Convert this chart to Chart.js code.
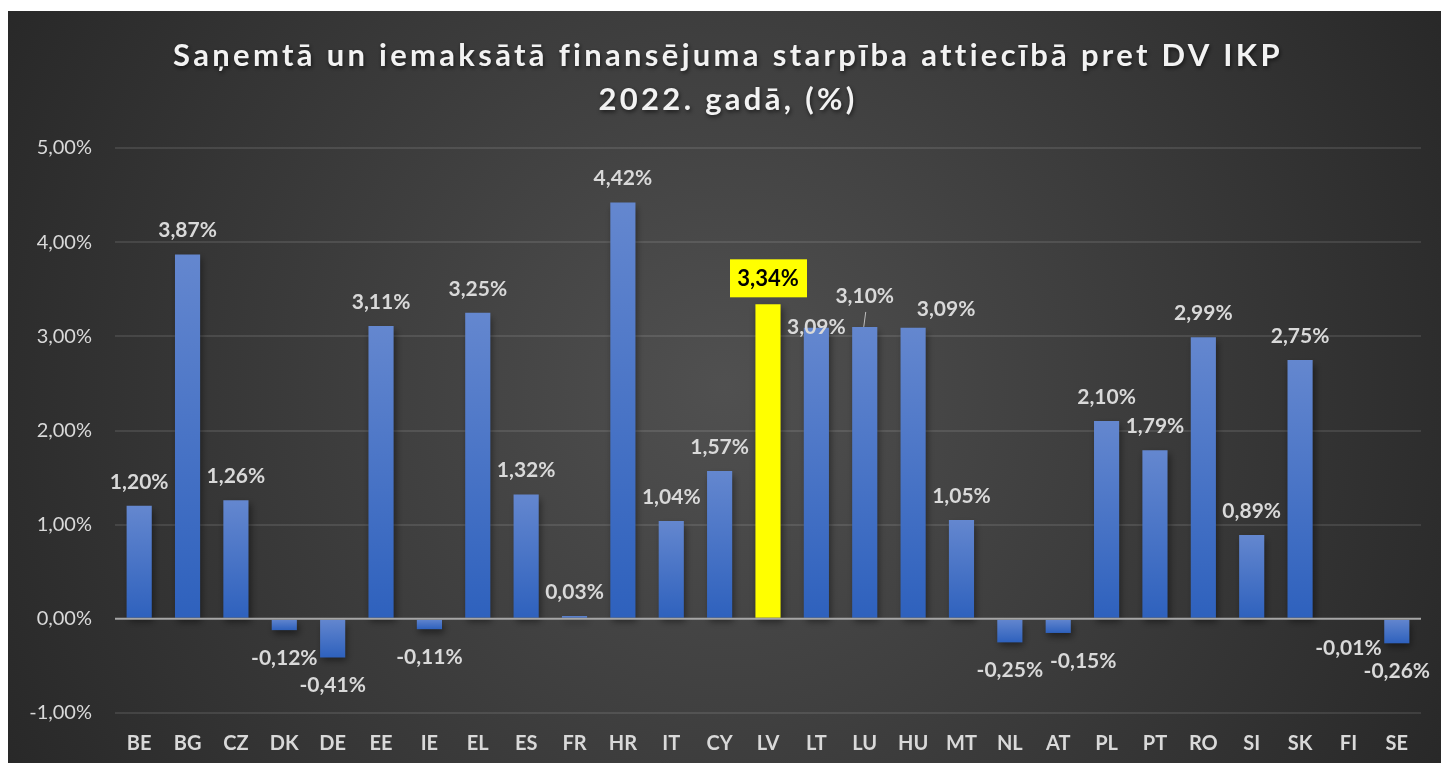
<!DOCTYPE html>
<html>
<head>
<meta charset="utf-8">
<script src="https://cdn.jsdelivr.net/npm/chart.js@4"></script>
<style>
  html, body { margin: 0; padding: 0; background: #fff; overflow: hidden; }
  #wrap { position: absolute; left: 8px; top: 11px; width: 1433px; height: 752px; }
</style>
</head>
<body>
<div id="wrap"><canvas id="gapChart"></canvas></div>
<script>
// ===== DATA =====
const categories = ["BE","BG","CZ","DK","DE","EE","IE","EL","ES","FR","HR","IT","CY","LV","LT","LU","HU","MT","NL","AT","PL","PT","RO","SI","SK","FI","SE"];
const values = [1.20,3.87,1.26,-0.12,-0.41,3.11,-0.11,3.25,1.32,0.03,4.42,1.04,1.57,3.34,3.09,3.10,3.09,1.05,-0.25,-0.15,2.10,1.79,2.99,0.89,2.75,-0.01,-0.26];
const yTicks = [-1, 0, 1, 2, 3, 4, 5];
const highlight = "LV";
const titleLines = ["Saņemtā un iemaksātā finansējuma starpība attiecībā pret DV IKP", "2022. gadā, (%)"];

// label nudges where Excel moved them around (dx, dy in px)
const labelNudge = { LT: [0, 23], LU: [0, -7], HU: [33, 5], AT: [25, 0] };

const fmt = (v) => v.toFixed(2).replace(".", ",") + "%";
const FONT = "Lato, 'Open Sans', sans-serif";

const chartPlugin = {
  id: "excelLook",
  beforeDraw(chart) {
    const { ctx, width, height } = chart;
    const g = ctx.createRadialGradient(width * 0.5, height * 0.5, 0, width * 0.5, height * 0.5, width * 0.6);
    g.addColorStop(0, "#505050");
    g.addColorStop(1, "#262626");
    ctx.save();
    ctx.fillStyle = g;
    ctx.fillRect(0, 0, width, height);
    // title
    ctx.fillStyle = "#f2f2f2";
    ctx.font = "bold 31px " + FONT;
    ctx.textAlign = "center";
    ctx.textBaseline = "alphabetic";
    ctx.letterSpacing = "3.3px";
    ctx.shadowColor = "rgba(0,0,0,0.6)";
    ctx.shadowBlur = 4;
    ctx.shadowOffsetX = 1;
    ctx.shadowOffsetY = 2;
    ctx.fillText(titleLines[0], 720, 55);
    ctx.fillText(titleLines[1], 720, 99);
    ctx.restore();
  },
  beforeDatasetsDraw(chart) {
    const ctx = chart.ctx;
    ctx.save();
    ctx.shadowColor = "rgba(0,0,0,0.45)";
    ctx.shadowBlur = 7;
    ctx.shadowOffsetX = 2;
    ctx.shadowOffsetY = 4;
  },
  afterDatasetsDraw(chart) {
    const ctx = chart.ctx;
    ctx.restore();
    const { chartArea, scales } = chart;
    const y0 = scales.y.getPixelForValue(0);
    ctx.save();
    ctx.strokeStyle = "#a6a6a6";
    ctx.lineWidth = 2;
    ctx.beginPath();
    ctx.moveTo(chartArea.left, y0);
    ctx.lineTo(chartArea.right, y0);
    ctx.stroke();

    const meta = chart.getDatasetMeta(0);
    ctx.textAlign = "center";
    ctx.textBaseline = "middle";
    meta.data.forEach((el, i) => {
      const v = values[i];
      const cat = categories[i];
      const [dx, dy] = labelNudge[cat] || [0, 0];
      const x = el.x + dx;
      let y = v >= 0 ? el.y - 24 + dy : el.y + 28 + dy;
      if (cat === highlight) {
        y = el.y - 26;
        ctx.fillStyle = "#ffff00";
        ctx.fillRect(x - 38, y - 19, 77, 38);
        ctx.fillStyle = "#000";
        ctx.font = "bold 22px " + FONT;
        ctx.fillText(fmt(v), x, y + 1);
        return;
      }
      ctx.fillStyle = "#d9d9d9";
      ctx.font = "bold 21px " + FONT;
      ctx.fillText(fmt(v), x, y);
      if (cat === "LU") {
        ctx.strokeStyle = "#bfbfbf";
        ctx.lineWidth = 1;
        ctx.beginPath();
        ctx.moveTo(x + 1, y + 16);
        ctx.lineTo(x - 1, el.y);
        ctx.stroke();
      }
    });
    ctx.restore();
  }
};

document.addEventListener("DOMContentLoaded", () => {
  const canvas = document.getElementById("gapChart");
  new Chart(canvas, {
    type: "bar",
    data: {
      labels: categories,
      datasets: [{
        data: values,
        barPercentage: 0.52,
        categoryPercentage: 1,
        backgroundColor: (c) => {
          if (c.type !== "data") return "#4472c4";
          if (categories[c.dataIndex] === highlight) return "#ffff00";
          const chart = c.chart;
          if (!chart.chartArea) return "#4472c4";
          const v = values[c.dataIndex];
          const yTop = chart.scales.y.getPixelForValue(Math.max(v, 0));
          const yBot = chart.scales.y.getPixelForValue(Math.min(v, 0));
          const g = chart.ctx.createLinearGradient(0, yTop, 0, yBot + 0.01);
          g.addColorStop(0, "#6487cf");
          g.addColorStop(1, "#2e61bd");
          return g;
        }
      }]
    },
    options: {
      responsive: true,
      maintainAspectRatio: false,
      animation: false,
      layout: { padding: { top: 137, right: 20, bottom: 10, left: 0 } },
      plugins: { legend: { display: false }, tooltip: { enabled: false } },
      scales: {
        x: {
          grid: { display: false, drawTicks: false },
          border: { display: false },
          ticks: { color: "#d9d9d9", font: { family: FONT, size: 20, weight: "bold" }, padding: 19, maxRotation: 0, autoSkip: false },
          afterFit: (s) => { s.height = 40; }
        },
        y: {
          min: yTicks[0],
          max: yTicks[yTicks.length - 1],
          afterBuildTicks: (s) => { s.ticks = yTicks.map((v) => ({ value: v })); },
          grid: {
            color: (c) => (c.tick && c.tick.value === 0 ? "rgba(0,0,0,0)" : "rgba(255,255,255,0.1)"),
            lineWidth: 2,
            drawTicks: false
          },
          border: { display: false },
          ticks: { color: "#d9d9d9", font: { family: FONT, size: 20 }, padding: 23, callback: (v) => fmt(v) },
          afterFit: (s) => { s.width = 107; }
        }
      }
    },
    plugins: [chartPlugin]
  });
});
</script>
</body>
</html>
